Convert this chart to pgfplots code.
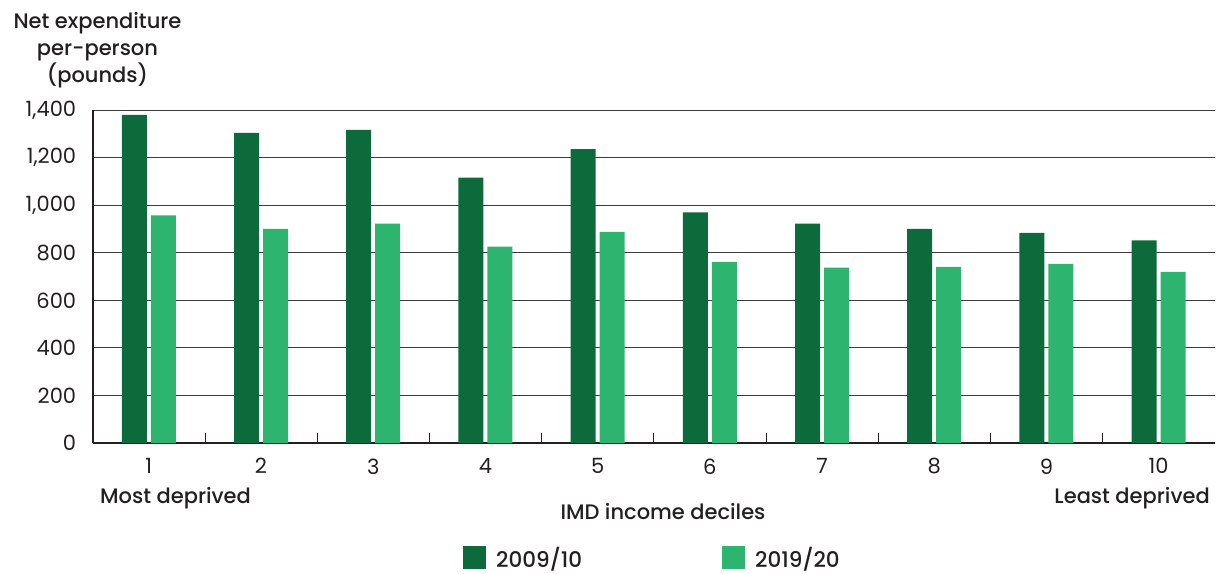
\documentclass[border=0pt]{standalone}
\usepackage{fontspec}
\setmainfont{Poppins}
\newfontfamily\medfont{Poppins Medium}
\usepackage{pgfplots}
\pgfplotsset{compat=1.18}
\definecolor{dgreen}{HTML}{0D6A3B}
\definecolor{lgreen}{HTML}{2DB56F}
\definecolor{txt}{HTML}{231F20}
\definecolor{gridc}{HTML}{3A3A3A}
\begin{document}
\begin{tikzpicture}[x=1pt,y=1pt]
\useasboundingbox (0,0) rectangle (1226,573);
\begin{axis}[
  at={(92.7pt,130pt)}, anchor=south west,
  scale only axis, width=1122pt, height=333pt,
  xmin=0.5, xmax=10.5, ymin=0, ymax=1400,
  axis x line*=bottom, axis y line*=left,
  axis line style={line width=1.6pt, txt, -},
  ytick={0,200,...,1400},
  xtick={1,...,10},
  minor xtick={1.5,2.5,...,9.5},
  major tick length=0pt, minor tick length=10pt, tick align=inside,
  minor tick style={line width=0.8pt, txt},
  ymajorgrids, grid style={line width=0.9pt, gridc},
  /pgf/number format/1000 sep={,},
  /pgf/number format/assume math mode=true,
  tick label style={font=\fontsize{21}{23}\selectfont, text=txt},
  xticklabel style={yshift=-12pt},
  yticklabel style={xshift=-13pt},
  legend columns=2,
  legend style={at={(0.4989,-0.345)}, anchor=center, draw=none, fill=none,
    font=\medfont\fontsize{21.5}{24}\selectfont, text=txt,
    nodes={inner ysep=0pt},
    /tikz/every even column/.append style={column sep=138pt}},
  legend image code/.code={\fill[#1] (0pt,-11.5pt) rectangle (23pt,11.5pt); \path (31pt,0pt);},
]
\addplot[ybar, bar width=25pt, bar shift=-14.5pt, fill=dgreen, draw=none]
  coordinates {(1,1380) (2,1304) (3,1316) (4,1116) (5,1236) (6,970) (7,922) (8,900) (9,883) (10,852)};
\addplot[ybar, bar width=25pt, bar shift=14.5pt, fill=lgreen, draw=none]
  coordinates {(1,957) (2,900) (3,922) (4,826) (5,888) (6,762) (7,737) (8,740) (9,753) (10,719)};
\legend{2009/10, 2019/20}
\end{axis}
\node[align=center, anchor=north, inner sep=0pt, font=\medfont\fontsize{21}{27}\selectfont, text=txt] at (97.5,561) {Net expenditure\\per-person\\(pounds)};
\node[anchor=base west, inner sep=0pt, font=\medfont\fontsize{21}{24}\selectfont, text=txt] at (100,69) {Most deprived};
\node[anchor=base east, inner sep=0pt, font=\medfont\fontsize{21}{24}\selectfont, text=txt] at (1210,69) {Least deprived};
\node[anchor=base, inner sep=0pt, font=\medfont\fontsize{21}{24}\selectfont, text=txt] at (663,53) {IMD income deciles};
\end{tikzpicture}
\end{document}
